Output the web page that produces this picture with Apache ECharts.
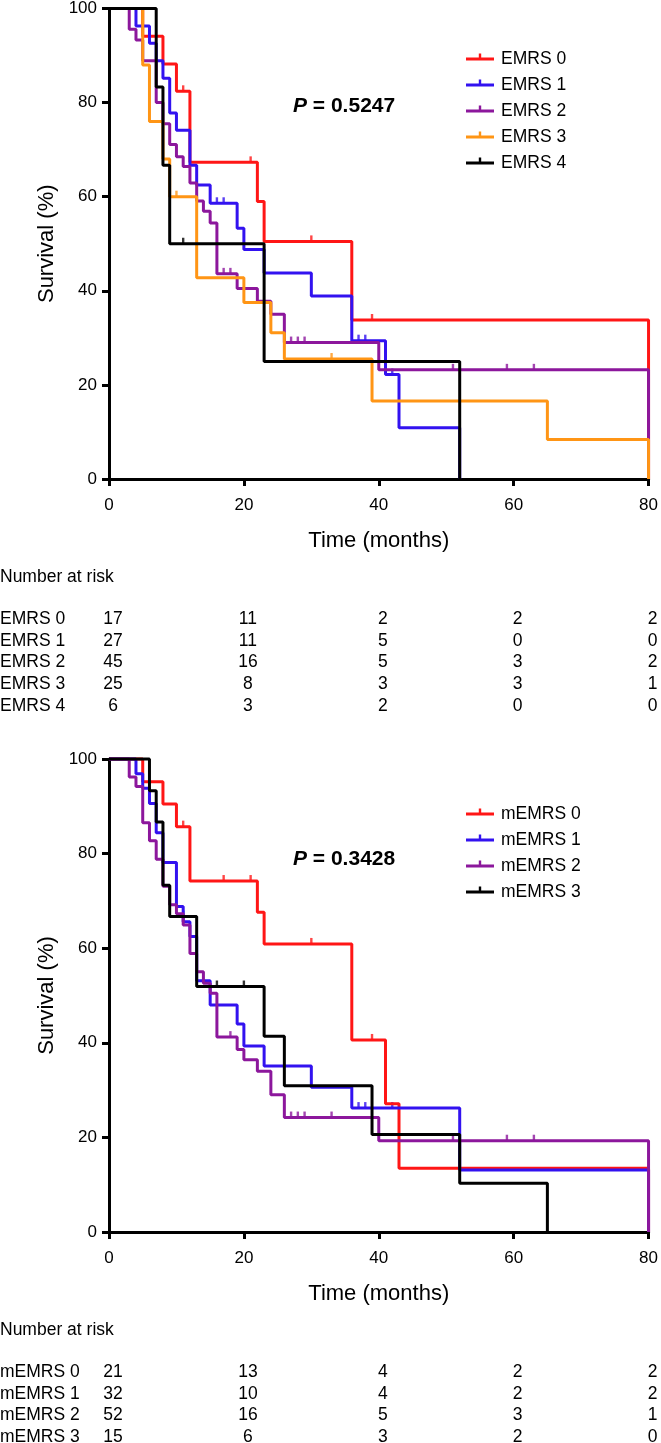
<!DOCTYPE html>
<html>
<head>
<meta charset="utf-8">
<title>EMRS survival</title>
<script src="https://cdn.jsdelivr.net/npm/echarts@6/dist/echarts.min.js"></script>
<style>
html, body { margin: 0; padding: 0; background: #fff; }
#chart-box { width: 661px; height: 1443px; }
</style>
</head>
<body>
<div id="chart-box"></div>
<script>
// months shown on the x axis, also the columns of the risk tables
const timeTicks = [0, 20, 40, 60, 80];

// upper panel: EMRS 0-4
const emrsNames = ["EMRS 0", "EMRS 1", "EMRS 2", "EMRS 3", "EMRS 4"];
const emrs0 = [[0,100],[5,94.1],[8,88.2],[10,82.4],[12,67.3],[22,59.0],[23,50.5],[36,33.8],[80,0]];
const emrs1 = [[0,100],[4,96.3],[6,92.6],[7,88.9],[8,85.2],[9,77.8],[10,74.1],[12,66.7],[13,62.5],[15,58.6],[19,53.3],[20,48.8],[23,43.8],[30,38.9],[36,29.4],[41,22.2],[43,10.9],[52,0]];
const emrs2 = [[0,100],[3,95.6],[4,93.3],[5,88.9],[7,80.0],[8,75.5],[9,71.1],[10,68.5],[11,66.4],[12,62.9],[13,59.1],[14,56.9],[15,54.4],[16,43.6],[19,40.5],[22,37.8],[24,35.0],[26,29.0],[40,23.2],[80,0]];
const emrs3 = [[0,100],[5,88.0],[6,76.0],[8,68.0],[9,60.0],[13,42.8],[20,37.5],[24,31.1],[26,25.5],[39,16.6],[65,8.4],[80,0]];
const emrs4 = [[0,100],[7,83.3],[8,66.7],[9,50.0],[23,25.0],[52,0]];
const emrsCensor0 = [11, 21, 30, 39];
const emrsCensor1 = [16, 17, 37, 38, 42];
const emrsCensor2 = [17, 18, 27, 28, 29, 51, 59, 63];
const emrsCensor3 = [10, 33];
const emrsCensor4 = [11];
const emrsRisk0 = [17, 11, 2, 2, 2];
const emrsRisk1 = [27, 11, 5, 0, 0];
const emrsRisk2 = [45, 16, 5, 3, 2];
const emrsRisk3 = [25, 8, 3, 3, 1];
const emrsRisk4 = [6, 3, 2, 0, 0];
const emrsP = "0.5247";

// lower panel: mEMRS 0-3
const memrsNames = ["mEMRS 0", "mEMRS 1", "mEMRS 2", "mEMRS 3"];
const memrs0 = [[0,100],[5,95.2],[8,90.5],[10,85.7],[12,74.2],[22,67.6],[23,60.9],[36,40.6],[41,27.1],[43,13.5],[80,0]];
const memrs1 = [[0,100],[4,96.9],[5,93.8],[6,90.6],[7,84.4],[8,78.1],[10,68.8],[11,65.6],[12,62.5],[13,53.1],[15,48.0],[19,44.0],[20,39.3],[23,35.1],[30,30.6],[36,26.2],[52,13.1],[80,0]];
const memrs2 = [[0,100],[3,96.2],[4,94.2],[5,86.5],[6,82.7],[7,78.8],[8,73.1],[9,69.2],[10,67.3],[11,64.9],[12,58.9],[13,55.0],[14,52.6],[15,50.5],[16,41.2],[19,38.6],[20,36.4],[22,34.0],[24,29.0],[26,24.2],[40,19.3],[80,0]];
const memrs3 = [[0,100],[6,93.3],[7,86.7],[8,73.3],[9,66.7],[13,51.9],[23,41.4],[26,30.9],[39,20.6],[52,10.3],[65,0]];
const memrsCensor0 = [11, 17, 21, 30, 39];
const memrsCensor1 = [37, 38, 42];
const memrsCensor2 = [18, 27, 28, 29, 33, 51, 59, 63];
const memrsCensor3 = [11, 16, 20];
const memrsRisk0 = [21, 13, 4, 2, 2];
const memrsRisk1 = [32, 10, 4, 2, 2];
const memrsRisk2 = [52, 16, 5, 3, 1];
const memrsRisk3 = [15, 6, 3, 2, 0];
const memrsP = "0.3428";

const RED = "#ff1616", BLUE = "#3212f0", PURPLE = "#8c179c", ORANGE = "#ff9515", BLACK = "#000000";
const FONT = "Liberation Sans, Arial, sans-serif";

const chart = echarts.init(document.getElementById("chart-box"));

// survival value of a step curve at time t
function survAt(curve, t) {
    let s = curve[0][1];
    curve.forEach(p => { if (p[0] <= t) s = p[1]; });
    return s;
}

function panelSeries(idx, names, curves, censors, colors) {
    const out = [];
    names.forEach((name, i) => {
        out.push({
            name: name,
            type: "line",
            xAxisIndex: idx, yAxisIndex: idx,
            step: "end",
            showSymbol: false,
            symbol: "none",
            clip: false,
            lineStyle: { color: colors[i], width: 3 },
            itemStyle: { color: colors[i] },
            data: curves[i]
        });
        out.push({
            name: name + " censored",
            type: "scatter",
            xAxisIndex: idx, yAxisIndex: idx,
            symbol: "rect",
            symbolSize: [2.4, 6],
            symbolOffset: [0, -3],
            clip: false,
            silent: true,
            itemStyle: { color: colors[i] },
            data: censors[i].map(t => [t, survAt(curves[i], t)])
        });
    });
    return out;
}

function xAxisOf(idx) {
    return {
        gridIndex: idx, type: "value", min: 0, max: 80, interval: 20,
        name: "Time (months)", nameLocation: "middle", nameGap: 51,
        nameTextStyle: { fontSize: 22, color: "#000", fontFamily: FONT },
        axisLine: { lineStyle: { color: "#000", width: 3 } },
        axisTick: { length: 7, lineStyle: { color: "#000", width: 3 } },
        axisLabel: { fontSize: 17, color: "#000", margin: 18, fontFamily: FONT },
        splitLine: { show: false }
    };
}
function yAxisOf(idx) {
    return {
        gridIndex: idx, type: "value", min: 0, max: 100, interval: 20,
        name: "Survival (%)", nameLocation: "middle", nameGap: 50,
        nameTextStyle: { fontSize: 22, color: "#000", fontFamily: FONT },
        axisLine: { lineStyle: { color: "#000", width: 3 } },
        axisTick: { length: 7, lineStyle: { color: "#000", width: 3 } },
        axisLabel: { fontSize: 17, color: "#000", margin: 12, fontFamily: FONT },
        splitLine: { show: false }
    };
}
// legend marker: a line with a small censor tick on top (the lower dot only keeps the line centred)
function legendOf(names, top) {
    return {
        data: names, orient: "vertical", left: 461, top: top,
        itemWidth: 28, itemHeight: 11, itemGap: 8,
        icon: "path://M0,4L28,4L28,7L0,7Z M12.8,0L15.2,0L15.2,4L12.8,4Z M13.95,10.95L14.05,10.95L14.05,11L13.95,11Z",
        itemStyle: { borderWidth: 0 },
        textStyle: { fontSize: 17.5, color: "#000", fontFamily: FONT, padding: [0, 0, 0, 2] },
        selectedMode: false
    };
}

const option = {
    animation: false,
    textStyle: { fontFamily: FONT },
    grid: [
        { left: 109, top: 6, width: 543, height: 473 },
        { left: 109, top: 759, width: 543, height: 473 }
    ],
    xAxis: [xAxisOf(0), xAxisOf(1)],
    yAxis: [yAxisOf(0), yAxisOf(1)],
    legend: [legendOf(emrsNames, 45), legendOf(memrsNames, 800)],
    series: [].concat(
        panelSeries(0, emrsNames, [emrs0, emrs1, emrs2, emrs3, emrs4],
            [emrsCensor0, emrsCensor1, emrsCensor2, emrsCensor3, emrsCensor4],
            [RED, BLUE, PURPLE, ORANGE, BLACK]),
        panelSeries(1, memrsNames, [memrs0, memrs1, memrs2, memrs3],
            [memrsCensor0, memrsCensor1, memrsCensor2, memrsCensor3],
            [RED, BLUE, PURPLE, BLACK])
    )
};
chart.setOption(option);

// P values and number-at-risk tables
function txt(text, x, y, align, size, weight) {
    return {
        type: "text", silent: true,
        style: {
            text: text, x: x, y: y,
            align: align, textAlign: align,
            verticalAlign: "middle", textVerticalAlign: "middle",
            fill: "#000", font: (weight || "normal") + " " + size + "px " + FONT
        }
    };
}
function pText(p, y) {
    return {
        type: "text", silent: true,
        style: {
            text: "{i|P}{b| = " + p + "}", x: 293, y: y,
            align: "left", textAlign: "left",
            verticalAlign: "middle", textVerticalAlign: "middle",
            rich: {
                i: { fontStyle: "italic", fontWeight: "bold", fontSize: 21, fontFamily: FONT, fill: "#000" },
                b: { fontWeight: "bold", fontSize: 21, fontFamily: FONT, fill: "#000" }
            }
        }
    };
}

const graphics = [];
function riskTable(idx, names, rows) {
    const base = chart.convertToPixel({ yAxisIndex: idx }, 0);
    const cols = timeTicks.map(t => chart.convertToPixel({ xAxisIndex: idx }, t) + 4);
    graphics.push(txt("Number at risk", 0, base + 98, "left", 17.5));
    rows.forEach((row, r) => {
        const y = base + 140 + r * 21.7;
        graphics.push(txt(names[r], 0, y, "left", 17.5));
        row.forEach((v, c) => graphics.push(txt(String(v), cols[c], y, "center", 17.5)));
    });
}
riskTable(0, emrsNames, [emrsRisk0, emrsRisk1, emrsRisk2, emrsRisk3, emrsRisk4]);
riskTable(1, memrsNames, [memrsRisk0, memrsRisk1, memrsRisk2, memrsRisk3]);
graphics.push(pText(emrsP, 106));
graphics.push(pText(memrsP, 859));
chart.setOption({ graphic: graphics });
</script>
</body>
</html>
